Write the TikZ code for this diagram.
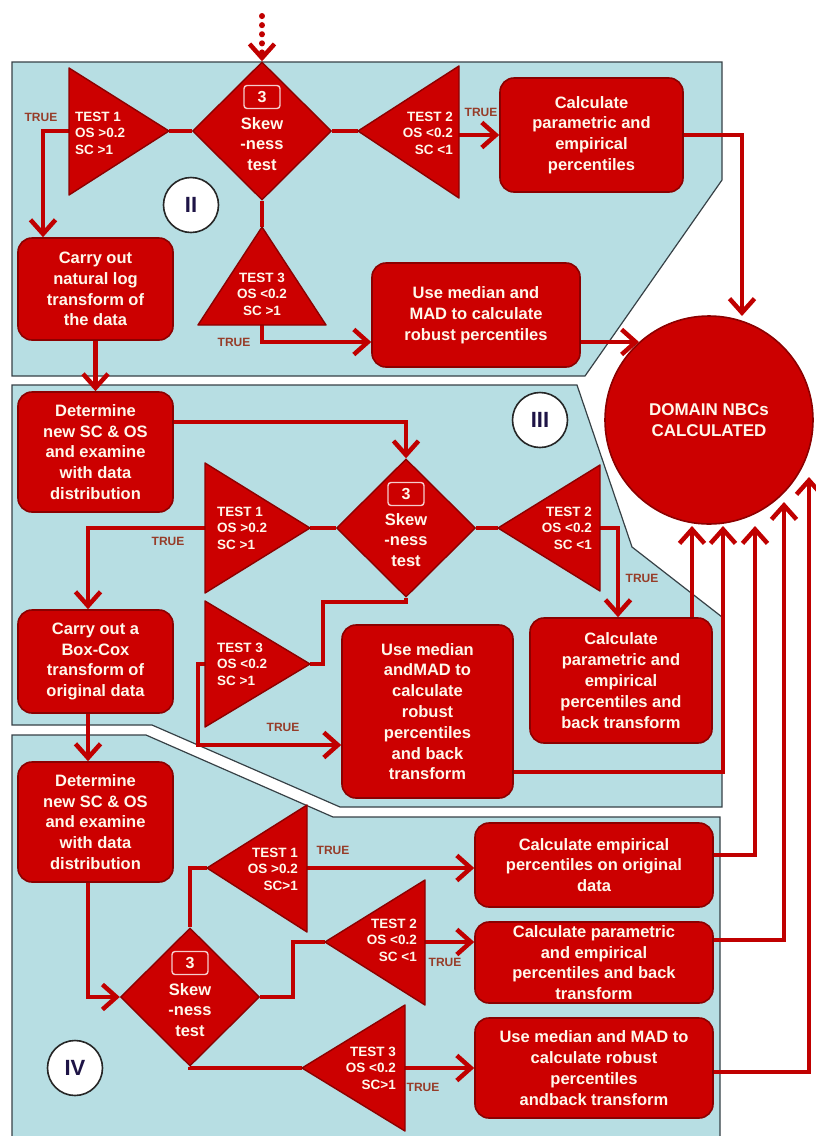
\documentclass[tikz,border=0pt]{standalone}
\usepackage{fontspec}
\setmainfont{Liberation Sans}
\usetikzlibrary{arrows.meta,shapes.geometric,calc}
\definecolor{panelblue}{RGB}{183,222,227}
\definecolor{panelline}{RGB}{55,65,70}
\definecolor{boxred}{RGB}{204,0,0}
\definecolor{boxedge}{RGB}{140,0,0}
\definecolor{linered}{RGB}{192,0,0}
\definecolor{truecol}{RGB}{150,60,40}
\definecolor{romancol}{RGB}{30,20,70}
\definecolor{creamwhite}{RGB}{255,248,235}
\pgfdeclarelayer{panels}
\pgfdeclarelayer{links}
\pgfsetlayers{panels,links,main}
\begin{document}
\begin{tikzpicture}[x=1pt,y=-1pt,
  panel/.style={fill=panelblue, draw=panelline, line width=1.2pt},
  box/.style={draw=boxedge, fill=boxred, line width=1.6pt, rounded corners=14pt, text=creamwhite,
    font=\fontsize{16.5}{20.8}\selectfont\bfseries, align=center, inner sep=0pt},
  tri/.style={fill=boxred, draw=boxedge, line width=1.4pt, line join=round},
  ttext/.style={text=creamwhite, font=\fontsize{13.5}{16.5}\selectfont\bfseries, inner sep=0pt},
  dia/.style={diamond, aspect=1, fill=boxred, draw=boxedge, line width=1.4pt,
    minimum width=139pt, minimum height=138pt, inner sep=0pt},
  dtext/.style={text=creamwhite, font=\fontsize{16.5}{20.8}\selectfont\bfseries, align=center, inner sep=0pt},
  numbox/.style={draw=white!80!boxred, line width=1.4pt, rounded corners=3pt, minimum width=36pt,
    minimum height=23pt, inner sep=0pt, text=creamwhite, font=\fontsize{16}{16}\selectfont\bfseries},
  conn/.style={draw=linered, line width=4.5pt},
  arr/.style={conn, -{Straight Barb[length=14pt,width=25pt]}},
  entryarr/.style={draw=linered, line width=6pt, line cap=round, dash pattern=on 0.1pt off 9pt,
    -{Straight Barb[length=14pt,width=25pt,line width=4.5pt]}},
  truelbl/.style={text=truecol, font=\fontsize{12}{12}\selectfont\bfseries, inner sep=0pt},
  roman/.style={circle, draw=black!85, fill=white, line width=1.6pt, minimum size=55pt, inner sep=0pt,
    text=romancol, font=\fontsize{22}{22}\selectfont\bfseries},
  goal/.style={circle, fill=boxred, draw=boxedge, line width=1.6pt, minimum size=208pt, inner sep=0pt,
    text=creamwhite, font=\fontsize{17}{21}\selectfont\bfseries, align=center}
]
\useasboundingbox (0,0) rectangle (816,1136);

% ---------------- panels ----------------
\begin{pgfonlayer}{panels}
  \path[panel] (12,62) -- (722,62) -- (722,180) -- (585,376) -- (12,376) -- cycle;
  \path[panel] (12,385) -- (577,385) -- (632,547) -- (722,617) -- (722,807) -- (340,807) -- (152,725) -- (12,725) -- cycle;
  \path[panel] (12,735) -- (146,735) -- (333,817) -- (720,817) -- (720,1142) -- (12,1142) -- cycle;
\end{pgfonlayer}

% ---------------- goal circle ----------------
\node[goal] (goal) at (709,420) {DOMAIN NBCs\\CALCULATED};

% ---------------- section II ----------------
\node[dia] (d2) at (262,131) {};
\node[numbox] (n2) at (262,97) {3};
\node[dtext] (s2) at (262,144) {Skew\\-ness\\test};

\coordinate (t21a) at (169,131);
\coordinate (t21l) at (69,131);
\path[tri] (69,68) -- (t21a) -- (69,195) -- cycle;
\node[ttext, anchor=west, align=left] (t21t) at (75,133) {TEST 1\\OS >0.2\\SC >1};

\coordinate (t22a) at (358,131);
\coordinate (t22r) at (459,135);
\path[tri] (459,66) -- (t22a) -- (459,198) -- cycle;
\node[ttext, anchor=east, align=right] (t22t) at (453,133) {TEST 2\\OS <0.2\\SC <1};

\coordinate (t23a) at (262,227);
\coordinate (t23b) at (262,325);
\path[tri] (198,325) -- (t23a) -- (326,325) -- cycle;
\node[ttext, align=center] (t23t) at (262,294) {TEST 3\\OS <0.2\\SC >1};

\node[box, minimum width=183pt, minimum height=114pt] (pc2) at (591.5,135) {Calculate\\parametric and\\empirical\\percentiles};
\node[box, minimum width=208pt, minimum height=104pt] (um2) at (476,315) {Use median and\\MAD to calculate\\robust percentiles};
\node[box, minimum width=155pt, minimum height=102pt] (cl2) at (95.5,289) {Carry out\\natural log\\transform of\\the data};
\node[roman] (r2) at (191,205) {II};

\node[truelbl] (tr21) at (41,117) {TRUE};
\node[truelbl] (tr22) at (481,112) {TRUE};
\node[truelbl] (tr23) at (234,342) {TRUE};

% ---------------- section III ----------------
\node[dia] (d3) at (406,528) {};
\node[numbox] (n3) at (406,494) {3};
\node[dtext] (s3) at (406,540) {Skew\\-ness\\test};

\coordinate (t31a) at (310,528);
\coordinate (t31l) at (205,528);
\path[tri] (205,463) -- (t31a) -- (205,593) -- cycle;
\node[ttext, anchor=west, align=left] (t31t) at (217,528) {TEST 1\\OS >0.2\\SC >1};

\coordinate (t32a) at (498,528);
\coordinate (t32r) at (600,528);
\path[tri] (600,465) -- (t32a) -- (600,591) -- cycle;
\node[ttext, anchor=east, align=right] (t32t) at (592,528) {TEST 2\\OS <0.2\\SC <1};

\coordinate (t33a) at (310,664);
\coordinate (t33l) at (205,664);
\path[tri] (205,601) -- (t33a) -- (205,727) -- cycle;
\node[ttext, anchor=west, align=left] (t33t) at (217,664) {TEST 3\\OS <0.2\\SC >1};

\node[box, minimum width=155pt, minimum height=120pt] (dt3) at (95.5,452) {Determine\\new SC \& OS\\and examine\\with data\\distribution};
\node[box, minimum width=155pt, minimum height=103pt] (bc3) at (95.5,661.5) {Carry out a\\Box-Cox\\transform of\\original data};
\node[box, minimum width=171pt, minimum height=173pt] (um3) at (427.5,711.5) {Use median\\andMAD to\\calculate\\robust\\percentiles\\and back\\transform};
\node[box, minimum width=182pt, minimum height=125pt] (pe3) at (621,680.5) {Calculate\\parametric and\\empirical\\percentiles and\\back transform};
\node[roman] (r3) at (540,420) {III};

\node[truelbl] (tr31) at (168,541) {TRUE};
\node[truelbl] (tr32) at (642,578) {TRUE};
\node[truelbl] (tr33) at (283,727) {TRUE};

% ---------------- section IV ----------------
\node[dia] (d4) at (190,997) {};
\node[numbox] (n4) at (190,963) {3};
\node[dtext] (s4) at (190,1010) {Skew\\-ness\\test};

\coordinate (t41a) at (207,868);
\coordinate (t41r) at (307,868);
\path[tri] (307,805) -- (t41a) -- (307,932) -- cycle;
\node[ttext, anchor=east, align=right] (t41t) at (298,869) {TEST 1\\OS >0.2\\SC>1};

\coordinate (t42a) at (325,942);
\coordinate (t42r) at (425,942);
\path[tri] (425,880) -- (t42a) -- (425,1005) -- cycle;
\node[ttext, anchor=east, align=right] (t42t) at (417,940) {TEST 2\\OS <0.2\\SC <1};

\coordinate (t43a) at (302,1068);
\coordinate (t43r) at (405,1068);
\path[tri] (405,1005) -- (t43a) -- (405,1131) -- cycle;
\node[ttext, anchor=east, align=right] (t43t) at (396,1068) {TEST 3\\OS <0.2\\SC>1};

\node[box, minimum width=155pt, minimum height=120pt] (dt4) at (95.5,822) {Determine\\new SC \& OS\\and examine\\with data\\distribution};
\node[box, minimum width=238pt, minimum height=84pt] (ec4) at (594,865) {Calculate empirical\\percentiles on original\\data};
\node[box, minimum width=238pt, minimum height=81pt] (pp4) at (594,962.5) {Calculate parametric\\and empirical\\percentiles and back\\transform};
\node[box, minimum width=238pt, minimum height=100pt] (um4) at (594,1068) {Use median and MAD to\\calculate robust\\percentiles\\andback transform};
\node[roman] (r4) at (75,1068) {IV};

\node[truelbl] (tr41) at (333,850) {TRUE};
\node[truelbl] (tr42) at (445,962) {TRUE};
\node[truelbl] (tr43) at (423,1087) {TRUE};

% ---------------- helper coordinates ----------------
\coordinate (entry) at (262,16);
\coordinate (c21) at (43,131);
\coordinate (c23) at (262,342);
\coordinate (tipA) at (742,316);
\coordinate (tipB) at (639,342);
\coordinate (c31) at (406,422);
\coordinate (c32) at (88,528);
\coordinate (c33) at (618,528);
\coordinate (c34) at (323,602);
\coordinate (c35) at (198,745);
\coordinate (c36) at (723,772);
\coordinate (x88) at (88,700);
\coordinate (c41) at (293,942);
\coordinate (c42) at (755,855);
\coordinate (c43) at (784,940);
\coordinate (c44) at (809,1072);
\coordinate (tip1) at (692,526);
\coordinate (tip2) at (723,526);
\coordinate (tip3) at (755,526);
\coordinate (tip4) at (784,502);
\coordinate (tip5) at (809,477);

% ---------------- connectors ----------------
\begin{pgfonlayer}{links}
  % II
  \draw[entryarr] (entry) -- (d2.north);
  \draw[conn] (t21a) -- (d2.west);
  \draw[arr] (t21l) -- (c21) -- (c21 |- cl2.north);
  \draw[conn] (d2.east) -- (t22a);
  \draw[arr] (t22r) -- (t22r -| pc2.west);
  \draw[arr] (pc2.east) -| (tipA);
  \draw[conn] (d2.south) -- (t23a);
  \draw[arr] (t23b) -- (c23) -- (c23 -| um2.west);
  \draw[arr] (c23 -| um2.east) -- (tipB);
  \draw[arr] (cl2.south) -- (dt3.north);
  % III
  \draw[arr] (c31 -| dt3.east) -- (c31) -- (d3.north);
  \draw[conn] (t31a) -- (d3.west);
  \draw[arr] (t31l) -- (c32) -- (c32 |- bc3.north);
  \draw[conn] (d3.east) -- (t32a);
  \draw[arr] (t32r) -- (c33) -- (c33 |- pe3.north);
  \draw[arr] (tip1 |- pe3.north) -- (tip1);
  \draw[conn] (d3.south) |- (c34) |- (t33a);
  \draw[arr] (t33l) -| (c35) -- (c35 -| um3.west);
  \draw[arr] (c36 -| um3.east) -- (c36) -- (tip2);
  % IV
  \draw[arr] (bc3.south -| x88) -- (dt4.north -| x88);
  \draw[arr] (dt4.south -| x88) |- (d4.west);
  \draw[conn] (d4.north) |- (t41a);
  \draw[arr] (t41r) -- (t41r -| ec4.west);
  \draw[conn] (d4.east) -| (c41) -- (t42a);
  \draw[arr] (t42r) -- (t42r -| pp4.west);
  \draw[conn] (d4.south) |- (t43a);
  \draw[arr] (t43r) -- (t43r -| um4.west);
  \draw[arr] (c42 -| ec4.east) -| (tip3);
  \draw[arr] (c43 -| pp4.east) -| (tip4);
  \draw[arr] (c44 -| um4.east) -| (tip5);
\end{pgfonlayer}
\end{tikzpicture}
\end{document}
